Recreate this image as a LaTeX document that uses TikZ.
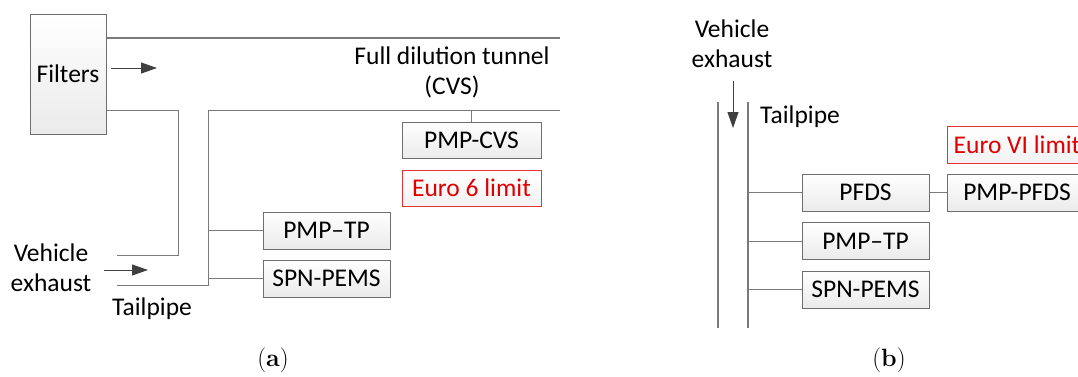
\documentclass[tikz,border=0pt]{standalone}
\usepackage{fontspec}
\setmainfont{Carlito}
\newfontfamily\capfont{Latin Modern Roman}
\usetikzlibrary{arrows.meta}
\definecolor{lineg}{HTML}{7A7A7A}
\definecolor{boxedge}{HTML}{6E6E6E}
\definecolor{arrowg}{HTML}{404040}
\definecolor{limitred}{HTML}{E00000}
\tikzset{
  box/.style={draw=boxedge, line width=1pt, top color=white, bottom color=black!8,
    minimum width=127pt, minimum height=37pt, inner sep=0pt, font=\fontsize{25.5}{30}\selectfont},
  limitbox/.style={box, draw=limitred!80, text=limitred, bottom color=black!5},
  pipe/.style={draw=lineg, line width=1pt},
  tunnel/.style={draw=lineg, line width=1.6pt},
  flow/.style={draw=arrowg, line width=1pt, -{Triangle[length=16pt,width=11pt]}},
  lbl/.style={font=\fontsize{25.5}{30}\selectfont, align=center, inner sep=0pt},
  captext/.style={font=\fontsize{25}{30}\selectfont\capfont, inner sep=0pt}
}
\begin{document}
\begin{tikzpicture}[x=1pt, y=-1pt]
\clip (0,0) rectangle (1078,376);
\fill[white] (0,0) rectangle (1078,376);

% ---------- (a) full dilution set-up ----------
\node[box, minimum width=76pt, minimum height=120pt] (filters) at (68,74) {Filters};
\coordinate (tunR) at (560,38);
\draw[tunnel] (filters.east |- tunR) -- (tunR);
\draw[flow] (111,68) coordinate (fa) -- (157,68) coordinate (fb);

\node[lbl] (tuntext) at (452,72) {Full dilution tunnel\\(CVS)};

\node[box, minimum width=139pt, minimum height=36pt] (pmpcvs) at (471.5,140) {PMP-CVS};
\node[limitbox, minimum width=139pt, minimum height=36pt] (euro6) at (471.5,188) {Euro 6 limit};

\node[box] (pmptpa) at (326.5,230.5) {PMP–TP};
\node[box] (spna) at (326.5,278.5) {SPN-PEMS};

% dilution air return and tailpipe walls
\coordinate (w1) at (178,110);
\coordinate (w1b) at (178,255);
\coordinate (w1e) at (117,255);
\draw[pipe] (filters.east |- w1) -- (w1) -- (w1b) -- (w1e);
\coordinate (w2r) at (560,110);
\coordinate (w2) at (208,110);
\coordinate (w2b) at (208,285);
\coordinate (w2e) at (117,285);
\draw[pipe] (w2r) -- (w2) -- (w2b) -- (w2e);
\draw[pipe] (pmpcvs.north |- w2) -- (pmpcvs.north);
\draw[pipe] (w2 |- pmptpa.west) -- (pmptpa.west);
\draw[pipe] (w2 |- spna.west) -- (spna.west);

\draw[flow] (104,270) coordinate (va) -- (148,270) coordinate (vb);
\node[lbl] (vexa) at (51,268) {Vehicle\\exhaust};
\node[lbl, anchor=west] (tpa) at (112,309) {Tailpipe};

\node[captext] (capa) at (273,360) {(\textbf{a})};

% ---------- (b) tailpipe sampling set-up ----------
\node[lbl] (vexb) at (732,44) {Vehicle\\exhaust};
\draw[flow] (733,81) coordinate (vc) -- (733,128) coordinate (vd);
\coordinate (t1) at (718,102);
\coordinate (t1b) at (718,328);
\coordinate (t2) at (748,102);
\coordinate (t2b) at (748,328);
\draw[tunnel] (t1) -- (t1b);
\draw[tunnel] (t2) -- (t2b);
\node[lbl, anchor=west] (tpb) at (760,117) {Tailpipe};

\node[box] (pfds) at (865.5,192.5) {PFDS};
\node[box] (pmptpb) at (865.5,241) {PMP–TP};
\node[box] (spnb) at (865.5,289.5) {SPN-PEMS};
\node[box, minimum width=140pt] (pmppfds) at (1017,192.5) {PMP-PFDS};
\node[limitbox, minimum width=140pt] (euro6b) at (1017,144.5) {Euro VI limit};

\draw[pipe] (t2 |- pfds.west) -- (pfds.west);
\draw[pipe] (t2 |- pmptpb.west) -- (pmptpb.west);
\draw[pipe] (t2 |- spnb.west) -- (spnb.west);
\draw[pipe] (pfds.east) -- (pmppfds.west);

\node[captext] (capb) at (889,360) {(\textbf{b})};
\end{tikzpicture}
\end{document}
